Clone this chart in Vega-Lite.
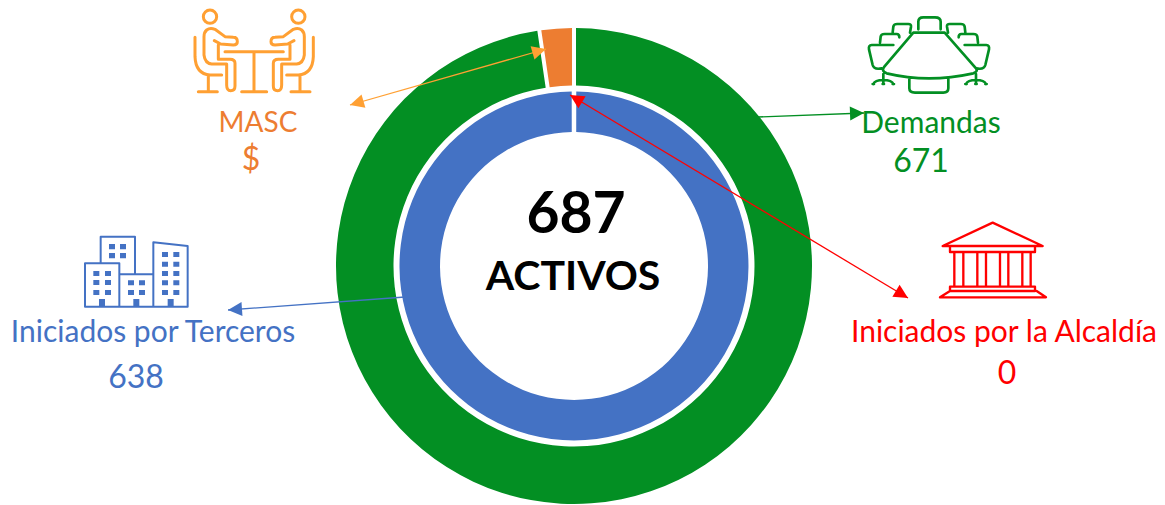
{"$schema":"https://vega.github.io/schema/vega-lite/v6.json","width":1165,"height":505,"padding":0,"autosize":{"type":"none"},"background":"white","view":{"stroke":null},
"config":{"font":"Lato"},
"resolve":{"scale":{"theta":"independent","shape":"independent"}},
"encoding":{"x":{"field":"x","type":"quantitative","axis":null,"scale":{"domain":[-574,591],"range":[0,1165]}},"y":{"field":"y","type":"quantitative","axis":null,"scale":{"domain":[-239,266],"range":[505,0]}},"color":{"field":"cat","type":"nominal","legend":null,"scale":{"domain":["Demandas","MASC","Terceros","Alcaldia","Centro","MASC icono"],"range":["#038F23","#ED7D31","#4472C4","#FF0000","#000000","#FFA033"]}}},
"layer":[
{"data":{"values":[{"cat":"Demandas","value":671,"desde":0,"hasta":671,"x":0,"y":0},{"cat":"MASC","value":16,"desde":671,"hasta":687,"x":0,"y":0}]},
"mark":{"type":"arc","outerRadius":238,"innerRadius":180.5,"padAngle":0.0134},
"encoding":{"theta":{"field":"desde","type":"quantitative","stack":null,"scale":{"domain":[0,687],"range":[0,6.2832]}},"theta2":{"field":"hasta"}}},
{"data":{"values":[{"cat":"Terceros","value":638,"desde":0,"hasta":638,"x":0,"y":0}]},
"mark":{"type":"arc","outerRadius":174.5,"innerRadius":134,"padAngle":0.019},
"encoding":{"theta":{"field":"desde","type":"quantitative","stack":null,"scale":{"domain":[0,638],"range":[0.001,6.282]}},"theta2":{"field":"hasta"}}},
{"data":{"values":[{"cat":"MASC icono","x":-224,"y":161,"x2":-28,"y2":217},{"cat":"Demandas","x":184,"y":149,"x2":290,"y2":153},{"cat":"Terceros","x":-169,"y":-31,"x2":-346,"y2":-44},{"cat":"Alcaldia","x":-4,"y":171,"x2":334,"y2":-32}]},
"mark":{"type":"rule","strokeWidth":1.3},
"encoding":{"x2":{"field":"x2"},"y2":{"field":"y2"}}},
{"data":{"values":[{"cat":"MASC icono","x":-224,"y":161,"ang":164},{"cat":"MASC icono","x":-28,"y":217,"ang":-16},{"cat":"Demandas","x":290,"y":153,"ang":-2},{"cat":"Terceros","x":-346,"y":-44,"ang":176},{"cat":"Alcaldia","x":-4,"y":171,"ang":211},{"cat":"Alcaldia","x":334,"y":-32,"ang":31}]},
"mark":{"type":"point","filled":true,"opacity":1,"size":4,"shape":"M0,0L-14,-7L-14,7Z"},
"encoding":{"angle":{"field":"ang","type":"quantitative","scale":null}}},
{"data":{"values":[{"icon":"MASC","cat":"MASC icono","x":-394,"y":266},{"icon":"Demandas","cat":"Demandas","x":276,"y":266},{"icon":"Alcaldia","cat":"Alcaldia","x":346,"y":56},{"icon":"Terceros","cat":"Terceros","x":-504,"y":41}]},
"mark":{"type":"point","filled":false,"opacity":1,"size":0.4444,"strokeCap":"round","strokeJoin":"round"},
"encoding":{"shape":{"field":"icon","type":"nominal","legend":null,"scale":{"domain":["MASC","Demandas","Alcaldia","Terceros"],"range":[
"M70,50A20,20,0,1,1,110,50A20,20,0,1,1,70,50ZM335,50A20,20,0,1,1,375,50A20,20,0,1,1,335,50ZM103,122L122,132L160,135Q172,135 172,125Q172,112 160,112L135,110L105,88Q90,82 80,90Q72,97 72,110L72,165Q75,190 95,192L140,192L140,255Q140,272 152,272Q165,272 165,258L165,190Q165,178 150,178L115,178L115,135M342,122L323,132L285,135Q273,135 273,125Q273,112 285,112L310,110L340,88Q355,82 365,90Q373,97 373,110L373,165Q370,190 350,192L305,192L305,255Q305,272 293,272Q280,272 280,258L280,190Q280,178 295,178L330,178L330,135M45,112L45,170Q47,222 90,225L125,225M85,225L85,275M55,275L112,275M400,112L400,170Q398,222 355,225L320,225M360,225L360,275M333,275L390,275M135,155L310,155M222,155L222,275M185,275L260,275",
"M190,98L284,98L378,205Q385,215 370,220Q235,250 110,220Q92,213 103,200ZM178,235L178,265Q178,278 195,278L280,278Q295,278 295,265L295,235M205,88L205,65Q205,52 220,52L255,52Q272,52 272,65L272,88M128,97L130,80Q131,72 142,72L175,72Q184,72 183,80L180,98M346,97L344,80Q343,72 332,72L299,72Q290,72 291,80L294,98M90,128L92,110Q93,102 104,102L140,102Q148,102 148,112M384,128L382,110Q381,102 370,102L334,102Q326,102 326,112M130,135L65,135Q55,135 57,148L68,195Q72,210 95,205M344,135L409,135Q419,135 417,148L406,195Q402,210 379,205M100,222L100,250M70,252Q75,240 100,240Q125,240 130,252M68,252L72,252M98,252L102,252M128,252L132,252M378,222L378,250M348,252Q353,240 378,240Q403,240 408,252M346,252L350,252M376,252L380,252M406,252L410,252",
"M68,108L218,38L368,108ZM90,110L90,126L345,126L345,110M103,128L103,230M130,128L130,230M172,128L172,230M198,128L198,230M240,128L240,230M265,128L265,230M307,128L307,230M332,128L332,230M90,230L345,230L345,243L90,243ZM90,243L60,262L378,262L350,243",
"M92,115L92,35L195,35L195,145M45,245L45,115L148,115L148,245ZM148,148L250,148M148,245L250,245M250,245L250,52L353,63L353,245Z"
]}},
"strokeWidth":{"field":"icon","type":"nominal","legend":null,"scale":{"domain":["MASC","Demandas","Alcaldia","Terceros"],"range":[3,2,2,3]}}}},
{"data":{"values":[{"icon":"Terceros","cat":"Terceros","x":-504,"y":41}]},
"mark":{"type":"point","filled":true,"opacity":1,"size":0.4444,"shape":"M117,57h18v16h-18zM150,57h18v16h-18zM117,84h18v16h-18zM150,84h18v16h-18zM70,138h18v15h-18zM105,138h18v15h-18zM70,165h18v15h-18zM105,165h18v15h-18zM70,195h18v15h-18zM105,195h18v15h-18zM174,166h18v15h-18zM207,166h18v15h-18zM174,195h18v15h-18zM207,195h18v15h-18zM276,81h18v15h-18zM310,81h18v15h-18zM276,110h18v15h-18zM310,110h18v15h-18zM276,138h18v15h-18zM310,138h18v15h-18zM276,166h18v15h-18zM310,166h18v15h-18zM276,195h18v15h-18zM310,195h18v15h-18zM87,222h18v23h-18zM190,222h18v23h-18zM293,222h18v23h-18z"}},
{"data":{"values":[{"label":"MASC","cat":"MASC","x":-316,"y":142.5}]},
"mark":{"type":"text","align":"center","baseline":"middle","fontSize":28},
"encoding":{"text":{"field":"label"}}},
{"data":{"values":[{"label":"Demandas","cat":"Demandas","x":357,"y":142.5},{"label":"Iniciados por Terceros","cat":"Terceros","x":-421,"y":-66.5},{"label":"Iniciados por la Alcaldía","cat":"Alcaldia","x":430,"y":-66.5}]},
"mark":{"type":"text","align":"center","baseline":"middle","fontSize":30},
"encoding":{"text":{"field":"label"}}},
{"data":{"values":[{"label":"$","cat":"MASC","x":-323,"y":106.5},{"label":"671","cat":"Demandas","x":347,"y":104.5},{"label":"638","cat":"Terceros","x":-438,"y":-111.5},{"label":"0","cat":"Alcaldia","x":433,"y":-107.5}]},
"mark":{"type":"text","align":"center","baseline":"middle","fontSize":32},
"encoding":{"text":{"field":"label"}}},
{"data":{"values":[{"label":"687","cat":"Centro","x":2,"y":50}]},
"mark":{"type":"text","fontWeight":"bold","align":"center","baseline":"middle","fontSize":57},
"encoding":{"text":{"field":"label"}}},
{"data":{"values":[{"label":"ACTIVOS","cat":"Centro","x":-1,"y":-12}]},
"mark":{"type":"text","fontWeight":"bold","align":"center","baseline":"middle","fontSize":41},
"encoding":{"text":{"field":"label"}}}
]}
